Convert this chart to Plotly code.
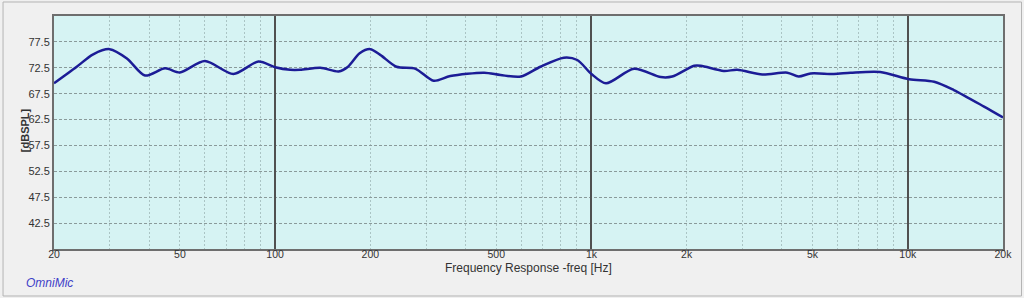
import plotly.graph_objects as go

# Frequency response data
freq_hz = [20, 23.6, 26.6, 30, 34, 38.8, 44.9, 50, 60, 73.8, 88.6, 100, 111.6, 120,
           139, 158.8, 170, 185, 200, 215, 242, 278, 317, 358, 458, 516, 598, 690,
           818, 902, 1000, 1112, 1363, 1656, 1800, 2112, 2217, 2620, 2890, 3470,
           4160, 4520, 4930, 5840, 6600, 8180, 10100, 12120, 13980, 17420, 20000]
spl_db = [69.5, 72.7, 75.1, 76.1, 74.3, 71.0, 72.4, 71.6, 73.8, 71.3, 73.7, 72.6, 72.1, 72.1,
          72.5, 71.8, 72.7, 75.3, 76.1, 75.0, 72.7, 72.3, 70.0, 70.9, 71.55, 71.1, 70.8, 72.7,
          74.45, 74.0, 71.3, 69.5, 72.3, 70.7, 70.8, 72.9, 72.9, 71.9, 72.1, 71.2,
          71.55, 70.8, 71.4, 71.3, 71.55, 71.7, 70.3, 69.8, 68.2, 65.0, 62.9]

label_vals = [20, 50, 100, 200, 500, 1000, 2000, 5000, 10000, 20000]
label_text = ["20", "50", "100", "200", "500", "1k", "2k", "5k", "10k", "20k"]
minor_grid = [v * m for m in (10, 100, 1000) for v in range(2, 10) if v * m >= 30]
decades = [100, 1000, 10000]
y_ticks = [42.5, 47.5, 52.5, 57.5, 62.5, 67.5, 72.5, 77.5]

fig = go.Figure()
fig.add_trace(go.Scatter(x=freq_hz, y=spl_db, mode="lines",
                         line=dict(color="#1c1c96", width=2.5, shape="spline", smoothing=0.8),
                         hoverinfo="skip", showlegend=False))
# invisible helper trace so the overlay axis (decade grid) is drawn
fig.add_trace(go.Scatter(x=[freq_hz[0]], y=[spl_db[0]], xaxis="x2", mode="markers",
                         marker=dict(opacity=0), hoverinfo="skip", showlegend=False))

font = "Liberation Sans, Arial, sans-serif"
xr = [1.30103, 4.30103]
fig.update_layout(
    width=1024, height=298,
    margin=dict(l=54, r=21, t=16, b=49),
    paper_bgcolor="#f0f0f0", plot_bgcolor="#d6f3f3",
    font=dict(family=font, size=11, color="#333333"),
    xaxis=dict(type="log", range=xr,
               tickmode="array", tickvals=label_vals, ticktext=label_text,
               tickfont=dict(size=10.5),
               showgrid=False, ticks="", ticklabelstandoff=-6,
               showline=True, linecolor="#6e6e6e", linewidth=2, mirror=True,
               zeroline=False,
               minor=dict(tickmode="array", tickvals=minor_grid, showgrid=True,
                          gridcolor="#aac4c4", griddash="2px,2px", gridwidth=1, ticks="")),
    xaxis2=dict(type="log", range=xr, overlaying="x", side="bottom",
                tickmode="array", tickvals=decades, showticklabels=False, ticks="",
                showgrid=True, gridcolor="#505050", gridwidth=1.5, griddash="solid",
                showline=False, zeroline=False),
    yaxis=dict(range=[37.5, 82.5], tickmode="array", tickvals=y_ticks,
               ticktext=[f"{v:.1f}" for v in y_ticks],
               showgrid=True, gridcolor="#8a9a9a", griddash="3px,2px", gridwidth=1,
               ticks="", showline=True, linecolor="#6e6e6e", linewidth=2, mirror=True,
               zeroline=False),
    shapes=[dict(type="rect", xref="paper", yref="paper",
                 x0=-0.0537, x1=1.0195, y0=-0.2017, y1=1.0601,
                 line=dict(color="#b4b4b4", width=1), fillcolor="rgba(0,0,0,0)",
                 layer="below")],
    annotations=[
        dict(text="<i>OmniMic</i>", xref="paper", yref="paper",
             x=-0.032, y=-0.145, xanchor="left", yanchor="middle",
             showarrow=False, font=dict(family=font, size=12, color="#4040c8")),
        dict(text="Frequency Response -freq [Hz]", xref="paper", yref="paper",
             x=0.5, y=-0.082, xanchor="center", yanchor="middle",
             showarrow=False, font=dict(family=font, size=12, color="#333333")),
        dict(text="<b>[dBSPL]</b>", xref="paper", yref="paper", textangle=-90,
             x=-0.0306, y=0.51, xanchor="center", yanchor="middle",
             showarrow=False, font=dict(family=font, size=11, color="#333333")),
    ],
)

fig.write_html("out.html")
